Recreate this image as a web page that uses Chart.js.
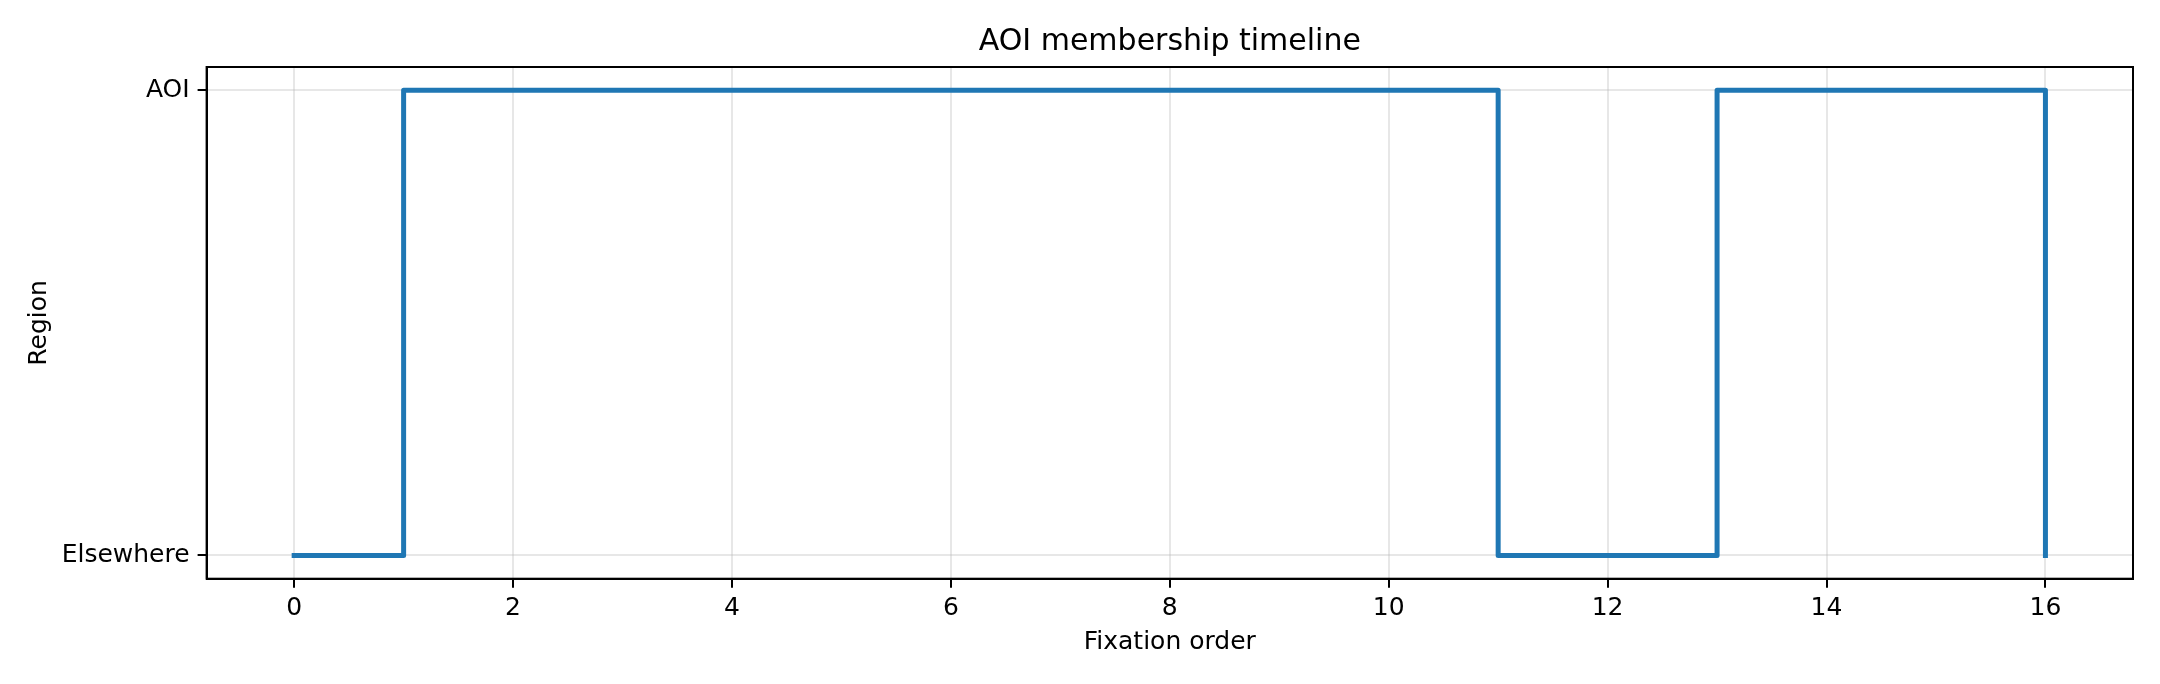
<!DOCTYPE html>
<html>
<head>
<meta charset="utf-8">
<script src="https://cdn.jsdelivr.net/npm/chart.js@4.4.0/dist/chart.umd.min.js"></script>
<style>
  html, body { margin: 0; padding: 0; background: #ffffff; }
  #wrap { width: 2160px; height: 684px; }
</style>
</head>
<body>
<div id="wrap"><canvas id="c" width="2160" height="684"></canvas></div>
<script>
// ---- data ----
const fixationOrder = [0, 1, 2, 3, 4, 5, 6, 7, 8, 9, 10, 11, 12, 13, 14, 15, 16];
const regionValues  = [0, 1, 1, 1, 1, 1, 1, 1, 1, 1, 1, 0, 0, 1, 1, 1, 0];
const regionLabels  = ['Elsewhere', 'AOI'];
const regionTicks   = [0, 1];
const xTickValues   = [0, 2, 4, 6, 8, 10, 12, 14, 16];
const chartTitle    = 'AOI membership timeline';
const xAxisTitle    = 'Fixation order';
const yAxisTitle    = 'Region';

const FONT = "'DejaVu Sans', 'Liberation Sans', sans-serif";

const points = fixationOrder.map((x, i) => ({ x: x, y: regionValues[i] }));

const frame = {
  id: 'frame',
  afterDraw(chart) {
    const { ctx, chartArea: a } = chart;
    ctx.save();
    ctx.strokeStyle = '#000000';
    ctx.lineWidth = 2;
    ctx.strokeRect(a.left, a.top, a.right - a.left, a.bottom - a.top);
    ctx.restore();
  }
};

new Chart(document.getElementById('c'), {
  type: 'line',
  data: {
    datasets: [{
      data: points,
      borderColor: '#1f77b4',
      backgroundColor: '#1f77b4',
      borderWidth: 5,
      stepped: 'before',
      pointRadius: 0,
      pointHoverRadius: 0,
      borderCapStyle: 'square',
      borderJoinStyle: 'round',
      fill: false,
      tension: 0
    }]
  },
  plugins: [frame],
  options: {
    responsive: false,
    animation: false,
    devicePixelRatio: 1,
    layout: { padding: { left: 0, right: 27, top: 0, bottom: 0 } },
    plugins: {
      legend: { display: false },
      tooltip: { enabled: false },
      title: {
        display: true,
        fullSize: false,
        text: chartTitle,
        color: '#000000',
        font: { family: FONT, size: 30, weight: 'normal', lineHeight: 1.2 },
        padding: { top: 24, bottom: 7 }
      }
    },
    scales: {
      x: {
        type: 'linear',
        min: -0.8,
        max: 16.8,
        afterBuildTicks: (s) => { s.ticks = xTickValues.map(v => ({ value: v })); },
        afterFit: (s) => { s.height = 105.3; },
        ticks: {
          color: '#000000',
          font: { family: FONT, size: 25 },
          padding: 6,
          maxRotation: 0,
          callback: (v) => String(v)
        },
        grid: {
          color: 'rgba(176,176,176,0.3)',
          lineWidth: 2,
          drawTicks: true,
          tickLength: 9,
          tickColor: '#000000',
          tickWidth: 2
        },
        border: { display: true, color: '#000000', width: 2 },
        title: {
          display: true,
          text: xAxisTitle,
          color: '#000000',
          font: { family: FONT, size: 25, lineHeight: 1.2 },
          padding: { top: 0, bottom: 26.6 }
        }
      },
      y: {
        type: 'linear',
        min: -0.05,
        max: 1.05,
        afterBuildTicks: (s) => { s.ticks = regionTicks.map(v => ({ value: v })); },
        afterFit: (s) => { s.width = 206.6; },
        ticks: {
          color: '#000000',
          font: { family: FONT, size: 25 },
          padding: 8,
          callback: (v) => regionLabels[v] !== undefined ? regionLabels[v] : ''
        },
        grid: {
          color: 'rgba(176,176,176,0.3)',
          lineWidth: 2,
          drawTicks: true,
          tickLength: 9,
          tickColor: '#000000',
          tickWidth: 2
        },
        border: { display: true, color: '#000000', width: 2 },
        title: {
          display: true,
          text: yAxisTitle,
          color: '#000000',
          font: { family: FONT, size: 25, lineHeight: 1.2 },
          padding: { top: 24.4, bottom: 0 }
        }
      }
    }
  }
});
</script>
</body>
</html>
